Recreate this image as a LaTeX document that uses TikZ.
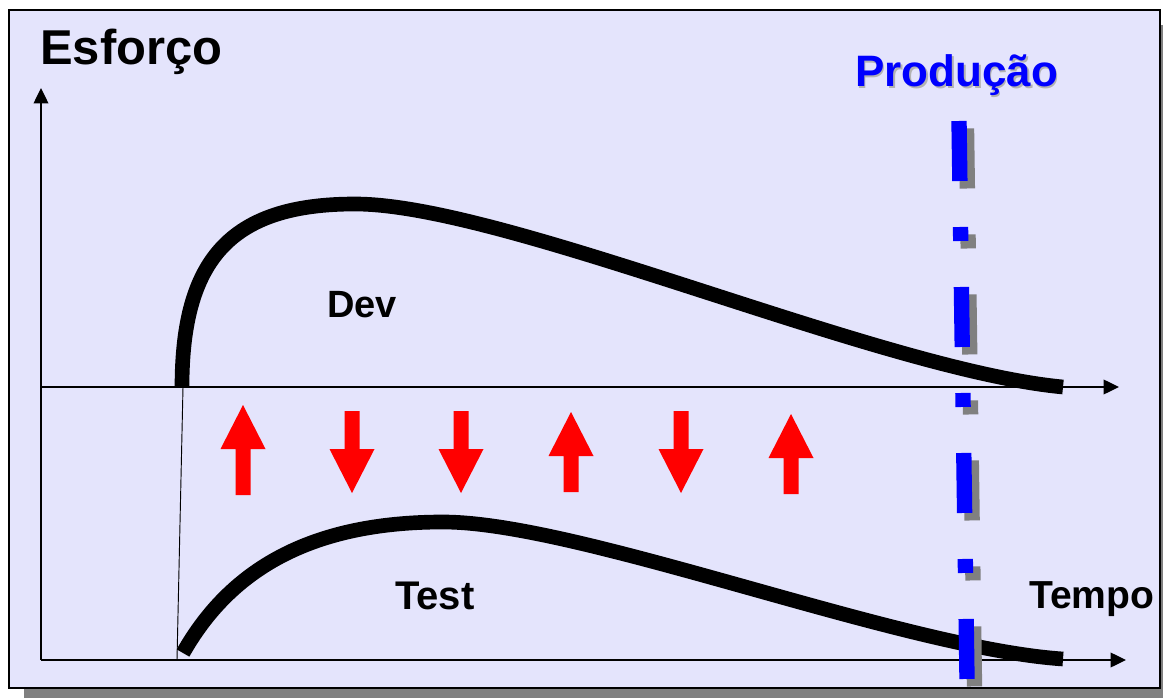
\documentclass[tikz,border=0pt]{standalone}
\usepackage{fontspec}
\setmainfont{Liberation Sans}
\usetikzlibrary{arrows.meta}
\definecolor{bgfill}{RGB}{228,228,252}
\definecolor{shadowgray}{RGB}{128,128,128}
\begin{document}
\begin{tikzpicture}[x=0.75pt,y=-0.75pt,
  axisline/.style={line width=1pt,-{Triangle[length=11.5pt,width=11pt]}},
  effort/.style={line width=11pt},
  lbl/.style={inner sep=0pt, anchor=base west},
  prodline/.style={line width=11.5pt, dash pattern=on 45pt off 34.5pt on 10.5pt off 34.5pt},
  redarrow/.style={fill=red}]
\useasboundingbox (0,0) rectangle (1163,698);
% frame with shadow
\begin{scope}
  \clip (0,0) rectangle (1163,698);
  \fill[shadowgray] (24,25) rectangle (1180,712);
\end{scope}
\draw[line width=1.1pt, fill=bgfill] (9,10) rectangle (1160,688);

% axes
\coordinate (O) at (41,660);
\coordinate (Ytop) at (41,88);
\coordinate (Xend) at (1126,660);
\coordinate (M) at (41,387);
\coordinate (Mend) at (1119,387);
\coordinate (DevStart) at (182,387);
\coordinate (TestStart) at (183,653);
\coordinate (DiagTop) at (183,387);
\coordinate (DiagBot) at (177,660);
\draw[axisline] (O) -- (Ytop);
\draw[axisline] (O) -- (Xend);
\draw[axisline] (M) -- (Mend);
\draw[line width=0.7pt] (DiagTop) -- (DiagBot);

% Dev curve
\draw[effort] (DevStart) .. controls (182,260) and (230,204) .. (355,204)
  .. controls (505,204) and (880,370) .. (1063,387);
% Test curve
\draw[effort] (TestStart) .. controls (230,570) and (310,522) .. (443,522)
  .. controls (580,522) and (900,648) .. (1063,659);

% red arrows
\foreach \cx/\t/\b in {243/405/495, 571/412/492, 791/414/494}
  \fill[redarrow] (\cx,\t) -- (\cx+22.5,\t+44) -- (\cx+7.5,\t+44) -- (\cx+7.5,\b)
    -- (\cx-7.5,\b) -- (\cx-7.5,\t+44) -- (\cx-22.5,\t+44) -- cycle;
\foreach \cx/\t/\b in {352/411/493, 461/411/493, 681/411/493}
  \fill[redarrow] (\cx-7.5,\t) -- (\cx+7.5,\t) -- (\cx+7.5,\b-44) -- (\cx+22.5,\b-44)
    -- (\cx,\b) -- (\cx-22.5,\b-44) -- (\cx-7.5,\b-44) -- cycle;

% production line
\coordinate (PA) at (959,121);
\coordinate (PB) at (967,679);
\draw[prodline, shadowgray] ([shift={(7.5,7.5)}]PA) -- ([shift={(7.5,7.5)}]PB);
\draw[prodline, blue] (PA) -- (PB);

% labels
\node[lbl, font=\bfseries\fontsize{36.7}{40}\selectfont] (esforco) at (40,65) {Esforço};
\node[lbl, text=gray!60, font=\bfseries\fontsize{33}{36}\selectfont] (prodshadow) at (856.5,88.5) {Produção};
\node[lbl, text=blue, font=\bfseries\fontsize{33}{36}\selectfont] (producao) at (855,87) {Produção};
\node[lbl, font=\bfseries\fontsize{28.5}{32}\selectfont] (dev) at (327,318) {Dev};
\node[lbl, font=\bfseries\fontsize{30}{33}\selectfont] (test) at (395,609) {Test};
\node[lbl, font=\bfseries\fontsize{29.3}{32}\selectfont] (tempo) at (1029,608) {Tempo};
\end{tikzpicture}
\end{document}
